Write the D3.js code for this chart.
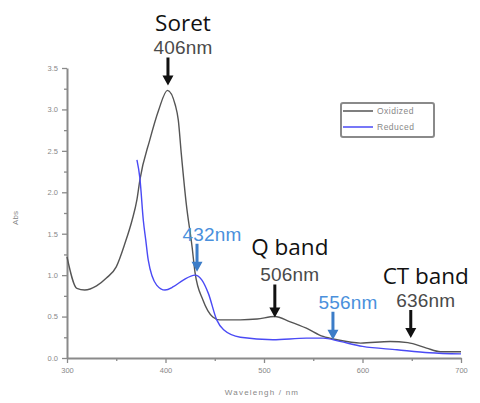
<!DOCTYPE html>
<html>
<head>
<meta charset="utf-8">
<script src="https://cdn.jsdelivr.net/npm/d3@7"></script>
<style>
  body { margin: 0; background: #fff; }
  svg { display: block; }
</style>
</head>
<body>
<script>
// wavelengths (nm) and absorbance
var oxWave = [300, 310, 318, 330, 340, 350, 359, 366, 371, 374, 384, 393, 402, 410, 413, 416, 421, 427, 430, 438, 448, 455, 476, 493, 511, 526, 543, 560, 574, 598, 628, 646, 665, 679, 700]
var oxAbs  = [1.22, 0.84, 0.82, 0.87, 0.965, 1.10, 1.39, 1.66, 1.91, 2.15, 2.63, 2.99, 3.23, 3.05, 2.87, 2.47, 1.87, 1.34, 1.03, 0.70, 0.495, 0.46, 0.46, 0.47, 0.50, 0.44, 0.36, 0.26, 0.22, 0.18, 0.20, 0.185, 0.12, 0.076, 0.076]

var redWave = [371, 374, 377.5, 380, 382.5, 391, 399.5, 408, 418, 430, 437, 443.5, 452, 459, 476, 509, 543, 560, 577, 600, 635, 668, 700]
var redAbs  = [2.39, 2.17, 1.66, 1.42, 1.18, 0.88, 0.82, 0.86, 0.94, 1.00, 0.94, 0.78, 0.46, 0.34, 0.25, 0.22, 0.24, 0.24, 0.20, 0.14, 0.10, 0.064, 0.05]

var xTicks = [300, 400, 500, 600, 700]
var xMinor = [350, 450, 550, 650]
var yTicks = [0, 0.5, 1.0, 1.5, 2.0, 2.5, 3.0, 3.5]
var yMinor = [0.25, 0.75, 1.25, 1.75, 2.25, 2.75, 3.25]

var seriesNames = ['Oxidized', 'Reduced']

// arrows: wavelength the arrow sits at, absorbance at its tip
var annoWave = [402.5, 432, 511, 570, 649]
var annoTip  = [3.29, 1.04, 0.49, 0.22, 0.24]
var annoLabel = ['406nm', '432nm', '506nm', '556nm', '636nm']
var annoTitle = ['Soret', '', 'Q band', '', 'CT band']
var annoBlue  = [false, true, false, true, false]

var width = 480, height = 403

var svg = d3.select('body').append('svg')
    .attr('width', width)
    .attr('height', height)

var x = d3.scaleLinear().domain([300, 700]).range([67, 461])
var y = d3.scaleLinear().domain([0, 3.5]).range([358, 68])

var axisColor = '#8a8a8a'
var tickFont = '7.5px "Liberation Sans", Arial, sans-serif'

// x axis
var gx = svg.append('g').attr('transform', 'translate(0,' + y(0) + ')')
gx.call(d3.axisBottom(x).tickValues(xTicks).tickSize(5).tickSizeOuter(0).tickPadding(5))
gx.append('g').call(d3.axisBottom(x).tickValues(xMinor).tickSize(3).tickFormat(''))
  .select('.domain').remove()

// y axis
var gy = svg.append('g').attr('transform', 'translate(' + x(300) + ',0)')
gy.call(d3.axisLeft(y).tickValues(yTicks).tickSize(5).tickSizeOuter(0).tickPadding(4)
    .tickFormat(d3.format('.1f')))
gy.append('g').call(d3.axisLeft(y).tickValues(yMinor).tickSize(3).tickFormat(''))
  .select('.domain').remove()

svg.selectAll('.domain').attr('stroke', axisColor).attr('stroke-width', 2)
svg.selectAll('.tick line').attr('stroke', axisColor).attr('stroke-width', 1.3)
svg.selectAll('.tick text')
    .style('font', tickFont)
    .attr('fill', '#888')

svg.append('text')
    .attr('x', 262).attr('y', 395)
    .attr('text-anchor', 'middle')
    .style('font', '8px "Liberation Sans", Arial, sans-serif')
    .attr('letter-spacing', 1.2)
    .attr('fill', '#888')
    .text('Wavelengh / nm')

svg.append('text')
    .attr('transform', 'translate(18,' + 218 + ') rotate(-90)')
    .attr('text-anchor', 'middle')
    .style('font', '8px "Liberation Sans", Arial, sans-serif')
    .attr('fill', '#888')
    .text('Abs')

// curves
var line = d3.line()
    .x(function(d) { return x(d[0]) })
    .y(function(d) { return y(d[1]) })
    .curve(d3.curveMonotoneX)

svg.append('path')
    .datum(d3.zip(oxWave, oxAbs))
    .attr('d', line)
    .attr('fill', 'none')
    .attr('stroke', '#555')
    .attr('stroke-width', 1.4)

svg.append('path')
    .datum(d3.zip(redWave, redAbs))
    .attr('d', line)
    .attr('fill', 'none')
    .attr('stroke', '#4a4af5')
    .attr('stroke-width', 1.4)

// legend
var lg = svg.append('g')
lg.append('rect')
    .attr('x', 341).attr('y', 103).attr('width', 93).attr('height', 34)
    .attr('rx', 2)
    .attr('fill', '#fff')
    .attr('stroke', '#8a8a8a').attr('stroke-width', 2)
var legendColors = ['#555', '#4a4af5']
seriesNames.forEach(function(name, i) {
  var ly = 111 + i * 16
  lg.append('line')
      .attr('x1', 343).attr('x2', 373).attr('y1', ly).attr('y2', ly)
      .attr('stroke', legendColors[i]).attr('stroke-width', 1.5)
  lg.append('text')
      .attr('x', 377).attr('y', ly + 3)
      .style('font', '8.5px "Liberation Sans", Arial, sans-serif')
      .attr('letter-spacing', 0.5)
      .attr('fill', '#888')
      .text(name)
})

// annotations
var titleGap = [23, 0, 26, 0, 23]
annoWave.forEach(function(w, i) {
  var ax = x(w)
  var tip = y(annoTip[i])
  var len = i === 2 ? 33 : 28
  var top = tip - len
  var col = annoBlue[i] ? '#3c7dc8' : '#111'
  svg.append('path')
      .attr('d', 'M' + (ax - 1.5) + ',' + top + 'V' + (tip - 10) + 'H' + (ax - 5.5) +
            'L' + ax + ',' + tip + 'L' + (ax + 5.5) + ',' + (tip - 10) + 'H' + (ax + 1.5) + 'V' + top + 'Z')
      .attr('fill', col)
  svg.append('text')
      .attr('x', ax + 15).attr('y', top - 3)
      .attr('text-anchor', 'middle')
      .style('font', '19px "Liberation Sans", Arial, sans-serif')
      .attr('letter-spacing', 0.2)
      .attr('fill', annoBlue[i] ? '#4a90dc' : '#4a4a4a')
      .text(annoLabel[i])
  if (annoTitle[i]) {
    svg.append('text')
        .attr('x', ax + 15).attr('y', top - 3 - titleGap[i])
        .attr('text-anchor', 'middle')
        .style('font', '22.5px "Open Sans", sans-serif')
        .attr('fill', '#111')
        .text(annoTitle[i])
  }
})
</script>
</body>
</html>
